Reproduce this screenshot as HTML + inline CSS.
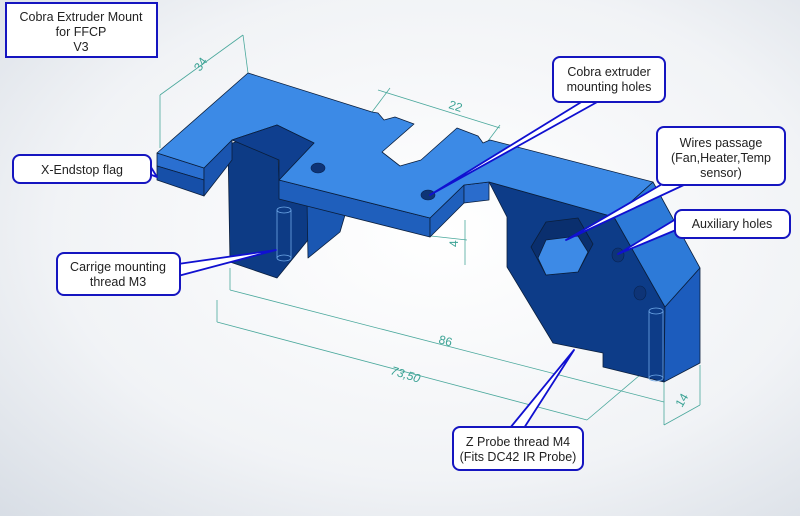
<!DOCTYPE html>
<html><head><meta charset="utf-8"><style>
html,body{margin:0;padding:0;}
body{width:800px;height:516px;overflow:hidden;font-family:"Liberation Sans",sans-serif;}
svg{display:block}
</style></head><body>
<svg width="800" height="516" viewBox="0 0 800 516" xmlns="http://www.w3.org/2000/svg">
<defs>
<radialGradient id="bg" cx="0.55" cy="0.45" r="0.8">
<stop offset="0" stop-color="#ffffff"/><stop offset="0.6" stop-color="#f1f3f6"/><stop offset="1" stop-color="#d6dce4"/>
</radialGradient>
</defs>
<rect width="800" height="516" fill="url(#bg)"/>

<g stroke="#4aa89c" stroke-width="0.8" fill="none">
<line x1="160" y1="148" x2="160" y2="95"/>
<line x1="160" y1="95" x2="243" y2="35"/>
<line x1="243" y1="35" x2="248" y2="73"/>
<line x1="378" y1="90" x2="500" y2="128"/>
<line x1="390" y1="88" x2="372" y2="112"/>
<line x1="500" y1="125" x2="485" y2="145"/>
<line x1="431" y1="236" x2="467" y2="240"/>
<line x1="465" y1="220" x2="465" y2="265"/>
<line x1="230" y1="268" x2="230" y2="290"/>
<line x1="230" y1="290" x2="664" y2="402"/>
<line x1="217" y1="300" x2="217" y2="322"/>
<line x1="217" y1="322" x2="587" y2="420"/>
<line x1="587" y1="420" x2="640" y2="375"/>
<line x1="664" y1="380" x2="664" y2="425"/>
<line x1="700" y1="365" x2="700" y2="405"/>
<line x1="664" y1="425" x2="700" y2="405"/>
</g>
<g fill="#3aa294" font-size="12">
<text x="200" y="72" transform="rotate(-55 200 72)">34</text>
<text x="448" y="108" transform="rotate(18 448 108)">22</text>
<text x="458" y="247" transform="rotate(-90 458 247)">4</text>
<text x="438" y="343" transform="rotate(15 438 343)">86</text>
<text x="390" y="374" transform="rotate(17 390 374)" font-style="italic">73,50</text>
<text x="682" y="408" transform="rotate(-60 682 408)">14</text>
</g>

<g stroke="#0a1e3c" stroke-width="0.8" stroke-linejoin="round">
<polygon points="228,145 277,125 279,180 310,190 308,240 277,278 230,262" fill="#0d3b85"/>
<polygon points="307,200 345,215 340,232 308,258" fill="#1a57b2"/>
<!-- flag front -->
<polygon points="157,153 204,168 204,180 157,166" fill="#2a6fd0"/>
<polygon points="157,166 204,180 204,196 157,180" fill="#164fa8"/>
<polygon points="204,168 232,140 232,160 204,196" fill="#1a55b0"/>
<polygon points="489,182 614,217 665,307 664,382 603,367 603,353 553,343 507,267 507,217" fill="#0d3c88"/>
<polygon points="614,217 653,182 700,268 665,307" fill="#2d7ad8"/>
<polygon points="665,307 700,268 700,363 664,382" fill="#1c5cbd"/>
<polygon points="279,180 430,218 430,237 279,199" fill="#1f5fbc"/>
<polygon points="430,218 464,185 464,203 430,237" fill="#1f5fbc"/>
<polygon points="464,185 489,182 489,200 464,203" fill="#2a6ccc"/>
<polygon points="157,153 248,73 372,112 378,113 384,120 395,117 414,124 382,152 400,166 421,160 457,128 478,136 483,143 490,140 653,182 614,217 489,182 464,185 430,218 279,180 314,143 277,125 232,140 204,168" fill="#3c8ae6"/>
<polygon points="232,140 277,125 314,143 279,180 279,160" fill="#0f3f8f"/>
<polygon points="546,222 578,218 593,244 578,272 546,275 531,247" fill="#0a2f6e"/>
<polygon points="546,240 578,236 588,252 578,272 546,275 538,258" fill="#3d8ae6"/>
</g>
<g fill="#0e3477" stroke="#082350" stroke-width="0.6">
<ellipse cx="318" cy="168" rx="7" ry="5"/>
<ellipse cx="428" cy="195" rx="7" ry="5"/>
<ellipse cx="618" cy="255" rx="6" ry="7"/>
<ellipse cx="640" cy="293" rx="6" ry="7"/>
</g>
<g stroke="#6fa8e8" stroke-width="0.8" fill="none">
<ellipse cx="284" cy="210" rx="7" ry="3"/><ellipse cx="284" cy="258" rx="7" ry="3"/>
<line x1="277" y1="210" x2="277" y2="258"/><line x1="291" y1="210" x2="291" y2="258"/>
<ellipse cx="656" cy="311" rx="7" ry="3"/><ellipse cx="656" cy="378" rx="7" ry="3"/>
<line x1="649" y1="311" x2="649" y2="378"/><line x1="663" y1="311" x2="663" y2="378"/>
</g>

<g fill="#ffffff" stroke="#1010d0" stroke-width="1.8" stroke-linejoin="round">
<polygon points="149,164 157,177 149,174"/>
<polygon points="178,264 276,250 178,276"/>
<polygon points="583,101 430,195 599,101"/>
<polygon points="676,176 566,240 686,184"/>
<polygon points="676,219 618,254 676,230"/>
<polygon points="510,428 574,350 524,428"/>
</g>

<g fill="#fff" stroke="#1515c0" stroke-width="2">
<rect x="6" y="3" width="151" height="54"/>
<rect x="13" y="155" width="138" height="28" rx="7"/>
<rect x="57" y="253" width="123" height="42" rx="7"/>
<rect x="553" y="57" width="112" height="45" rx="7"/>
<rect x="657" y="127" width="128" height="58" rx="7"/>
<rect x="675" y="210" width="115" height="28" rx="7"/>
<rect x="453" y="427" width="130" height="43" rx="7"/>
</g>
<g fill="#222" font-size="12.5" text-anchor="middle">
<text x="81" y="21">Cobra Extruder Mount</text><text x="81" y="36">for FFCP</text><text x="81" y="51">V3</text>
<text x="82" y="174">X-Endstop flag</text>
<text x="118" y="271">Carrige mounting</text><text x="118" y="286">thread M3</text>
<text x="609" y="76">Cobra extruder</text><text x="609" y="91">mounting holes</text>
<text x="721" y="147">Wires passage</text><text x="721" y="162">(Fan,Heater,Temp</text><text x="721" y="177">sensor)</text>
<text x="732" y="228">Auxiliary holes</text>
<text x="518" y="446">Z Probe thread M4</text><text x="518" y="461">(Fits DC42 IR Probe)</text>
</g>
</svg>
</body></html>
